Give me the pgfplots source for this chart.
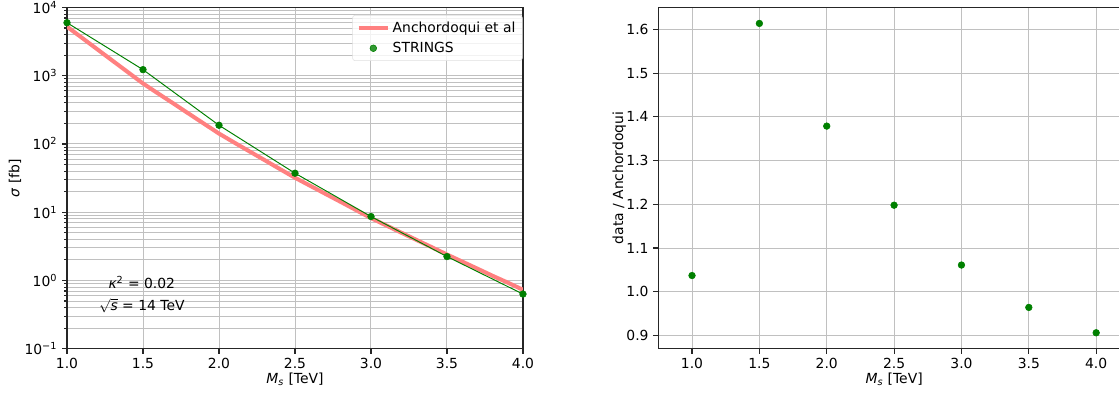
\documentclass[border=0pt]{standalone}
\usepackage{fontspec}
\setmainfont{DejaVu Sans}
\usepackage{pgfplots}
\pgfplotsset{compat=1.18}
\definecolor{mgreen}{RGB}{0,128,0}
\definecolor{mred}{RGB}{255,128,128}
\definecolor{mgrid}{RGB}{192,192,192}
\pgfplotsset{
  mpl/.style={
    scale only axis,
    axis line style={black!85, line width=0.8pt},
    tick align=outside,
    major tick length=3.5pt,
    minor tick length=2pt,
    every tick/.style={black!85, line width=0.8pt},
    tick pos=left,
    grid style={mgrid, line width=0.7pt},
    minor grid style={mgrid, line width=0.7pt},
    tick label style={font=\fontsize{10}{12}\selectfont},
    label style={font=\fontsize{10}{12}\selectfont},
    /pgf/number format/assume math mode=true,
    xticklabel style={/pgf/number format/.cd, fixed, fixed zerofill, precision=1},
    every axis x label/.style={at={([yshift=-22.3pt]rel axis cs:0.5,0)}, anchor=center},
  },
  redleg/.style={legend image code/.code={\draw[##1] (0cm,0cm) -- (0.74cm,0cm);}},
  dotleg/.style={legend image code/.code={\draw[##1] plot coordinates {(0.37cm,0cm)};}},
}
\begin{document}
\begin{tikzpicture}
\useasboundingbox (0,0) rectangle (805.68pt,283.68pt);
\begin{axis}[mpl,
  at={(48.24pt,32.6pt)}, anchor=south west,
  width=328.3pt, height=245.7pt,
  xmin=1.0, xmax=4.0, ymode=log, ymin=0.1, ymax=10000,
  xtick={1.0,1.5,2.0,2.5,3.0,3.5,4.0},
  ytick={0.1,1,10,100,1000,10000},
  yticklabels={10\textsuperscript{−1},10\textsuperscript{0},10\textsuperscript{1},10\textsuperscript{2},10\textsuperscript{3},10\textsuperscript{4}},
  grid=both, minor x tick num=0,
  xlabel={\textit{M}\textsubscript{\textit{s}} [TeV]},
  ylabel={\textit{σ} [fb]},
  every axis y label/.style={at={([xshift=-37.4pt]rel axis cs:0,0.5)}, rotate=90, anchor=center},
  legend style={at={(0.9993,0.978)}, anchor=north east, draw=black!12, rounded corners=2pt, fill=white, fill opacity=0.8, text opacity=1, font=\fontsize{10}{12}\selectfont, row sep=1.7pt, inner xsep=3pt, inner ysep=2.5pt},
  legend cell align=left,
]
\addplot[mred, line width=2.9pt, no marks, redleg] coordinates {
(1.0,5240) (1.1,3570) (1.2,2430) (1.3,1657) (1.4,1130) (1.5,770)
(1.6,548) (1.7,392) (1.8,279) (1.9,199) (2.0,142) (2.1,105)
(2.2,78) (2.3,58) (2.4,43) (2.5,32) (2.6,24.4) (2.7,18.6)
(2.8,14.2) (2.9,10.8) (3.0,8.2) (3.1,6.41) (3.2,5.01) (3.3,3.92)
(3.4,3.07) (3.5,2.4) (3.6,1.89) (3.7,1.49) (3.8,1.17) (3.9,0.93) (4.0,0.73)
};
\addlegendentry{Anchordoqui et al}
\addplot[mgreen, line width=0.7pt, forget plot] coordinates {
(1.0,5980) (1.5,1227) (2.0,188) (2.5,37.3) (3.0,8.65) (3.5,2.24) (4.0,0.632)
};
\addplot[only marks, mark=*, mark size=2.4pt, mgreen, mark options={draw=mgreen, fill=mgreen}, dotleg] coordinates {
(1.0,5980) (1.5,1227) (2.0,188) (2.5,37.3) (3.0,8.65) (3.5,2.24) (4.0,0.632)
};
\addlegendentry{STRINGS}
\node[font=\fontsize{10}{12}\selectfont] at (rel axis cs:0.164,0.193) {\textit{κ}\textsuperscript{2} = 0.02};
\node[font=\fontsize{10}{12}\selectfont] at (rel axis cs:0.164,0.126) {$\sqrt{\mbox{\textit{s}}}$ = 14 TeV};
\end{axis}
\begin{axis}[mpl,
  at={(474.0pt,32.6pt)}, anchor=south west,
  width=339.5pt, height=245.7pt,
  xmin=0.75, xmax=4.25, ymin=0.8695, ymax=1.6505,
  xtick={1.0,1.5,2.0,2.5,3.0,3.5,4.0},
  ytick={0.9,1.0,1.1,1.2,1.3,1.4,1.5,1.6},
  yticklabel style={/pgf/number format/.cd, fixed, fixed zerofill, precision=1},
  grid=major,
  xlabel={\textit{M}\textsubscript{\textit{s}} [TeV]},
  ylabel={data / Anchordoqui},
  every axis y label/.style={at={([xshift=-28.1pt]rel axis cs:0,0.5)}, rotate=90, anchor=center},
]
\addplot[only marks, mark=*, mark size=2.4pt, mark options={draw=mgreen, fill=mgreen}] coordinates {
(1.0,1.037) (1.5,1.614) (2.0,1.379) (2.5,1.198) (3.0,1.061) (3.5,0.964) (4.0,0.906)
};
\end{axis}
\end{tikzpicture}
\end{document}
